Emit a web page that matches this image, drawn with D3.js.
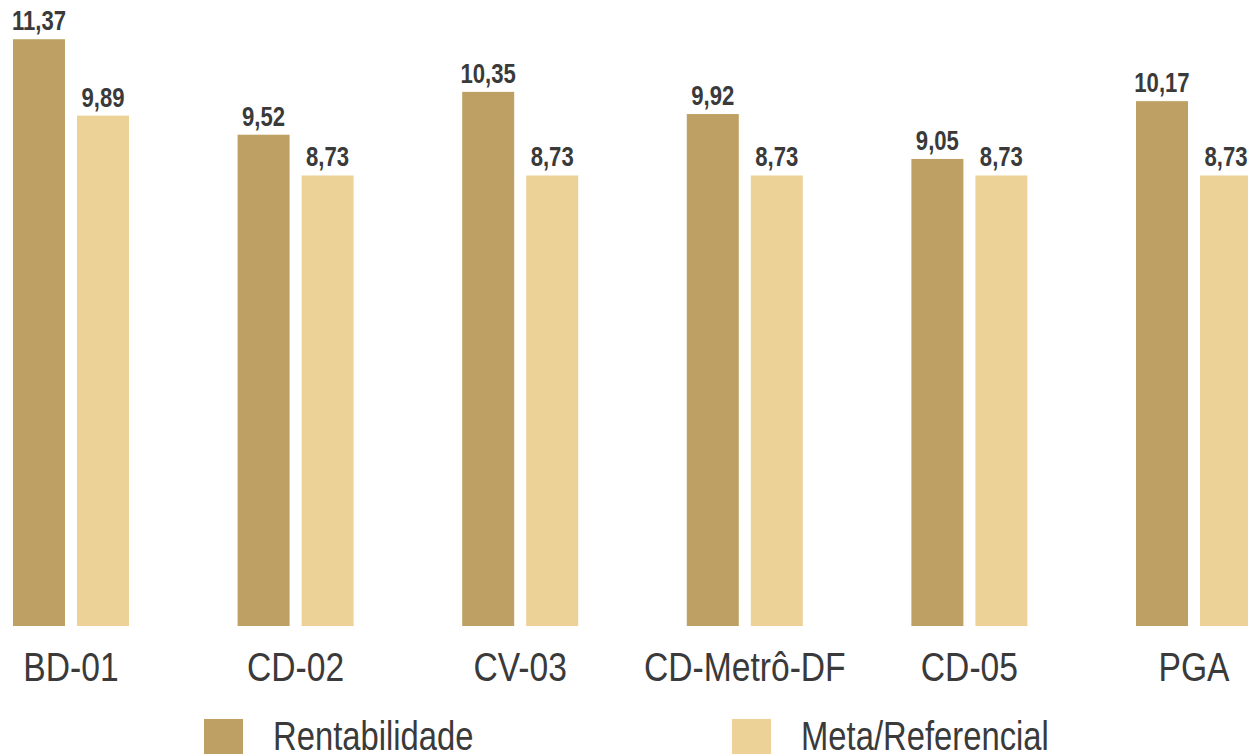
<!DOCTYPE html>
<html>
<head>
<meta charset="utf-8">
<script src="https://cdn.jsdelivr.net/npm/d3@7"></script>
<style>
  html, body { margin: 0; padding: 0; background: #ffffff; overflow: hidden; }
  svg { display: block; }
  text { font-family: "Liberation Sans Narrow", "Arial Narrow", "Liberation Sans", Arial, sans-serif; fill: #3a3a3a; }
</style>
</head>
<body>
<svg id="chart" width="1248" height="754"></svg>
<script>
// Plans and their returns versus the target benchmark (%)
const categories = ["BD-01", "CD-02", "CV-03", "CD-Metrô-DF", "CD-05", "PGA"];
const seriesNames = ["Rentabilidade", "Meta/Referencial"];
const rentabilidade = [11.37, 9.52, 10.35, 9.92, 9.05, 10.17];
const metaReferencial = [9.89, 8.73, 8.73, 8.73, 8.73, 8.73];
const seriesColors = ["#bfa064", "#edd297"];

const width = 1248, height = 754;
const baseline = 626;
// horizontal squeeze giving the condensed lettering
const narrow = "scale(0.82,1)";

const svg = d3.select("#chart");

const rows = categories.map((c, i) => ({
  category: c,
  values: [
    { series: seriesNames[0], value: rentabilidade[i] },
    { series: seriesNames[1], value: metaReferencial[i] }
  ]
}));

const x0 = d3.scaleBand()
  .domain(categories)
  .range([13, 1252])
  .paddingInner(0.4835)
  .paddingOuter(0);

const x1 = d3.scaleBand()
  .domain(seriesNames)
  .range([0, x0.bandwidth()])
  .paddingInner(0.1875);

const y = d3.scaleLinear()
  .domain([0, 12.13])
  .range([baseline, 0]);

const color = d3.scaleOrdinal().domain(seriesNames).range(seriesColors);
const fmt = v => d3.format(".2f")(v).replace(".", ",");

const groups = svg.append("g").selectAll("g")
  .data(rows)
  .join("g")
  .attr("transform", d => `translate(${x0(d.category)},0)`);

groups.selectAll("rect")
  .data(d => d.values)
  .join("rect")
  .attr("x", d => x1(d.series))
  .attr("y", d => y(d.value))
  .attr("width", x1.bandwidth())
  .attr("height", d => baseline - y(d.value))
  .attr("fill", d => color(d.series));

groups.selectAll("text.value")
  .data(d => d.values)
  .join("text")
  .attr("class", "value")
  .attr("transform", d => `translate(${x1(d.series) + x1.bandwidth() / 2},${y(d.value) - 9}) ${narrow}`)
  .attr("text-anchor", "middle")
  .attr("font-size", 27)
  .attr("font-weight", "bold")
  .text(d => fmt(d.value));

// Category axis, no line or ticks
const xAxis = svg.append("g")
  .attr("transform", `translate(0,${baseline})`)
  .call(d3.axisBottom(x0).tickSize(0).tickPadding(0));
xAxis.select(".domain").remove();
xAxis.selectAll("text")
  .attr("dy", null)
  .attr("y", 55)
  .attr("transform", narrow)
  .attr("font-size", 41)
  .attr("fill", "#3a3a3a")
  .style("font-family", "\"Liberation Sans Narrow\", \"Arial Narrow\", \"Liberation Sans\", Arial, sans-serif");

// Legend
const legendX = [204, 732];
const legend = svg.append("g").selectAll("g")
  .data(seriesNames)
  .join("g")
  .attr("transform", (d, i) => `translate(${legendX[i]},719)`);
legend.append("rect")
  .attr("width", 39)
  .attr("height", 38)
  .attr("fill", d => color(d));
legend.append("text")
  .attr("transform", `translate(69,31) ${narrow}`)
  .attr("font-size", 40)
  .text(d => d);
</script>
</body>
</html>
